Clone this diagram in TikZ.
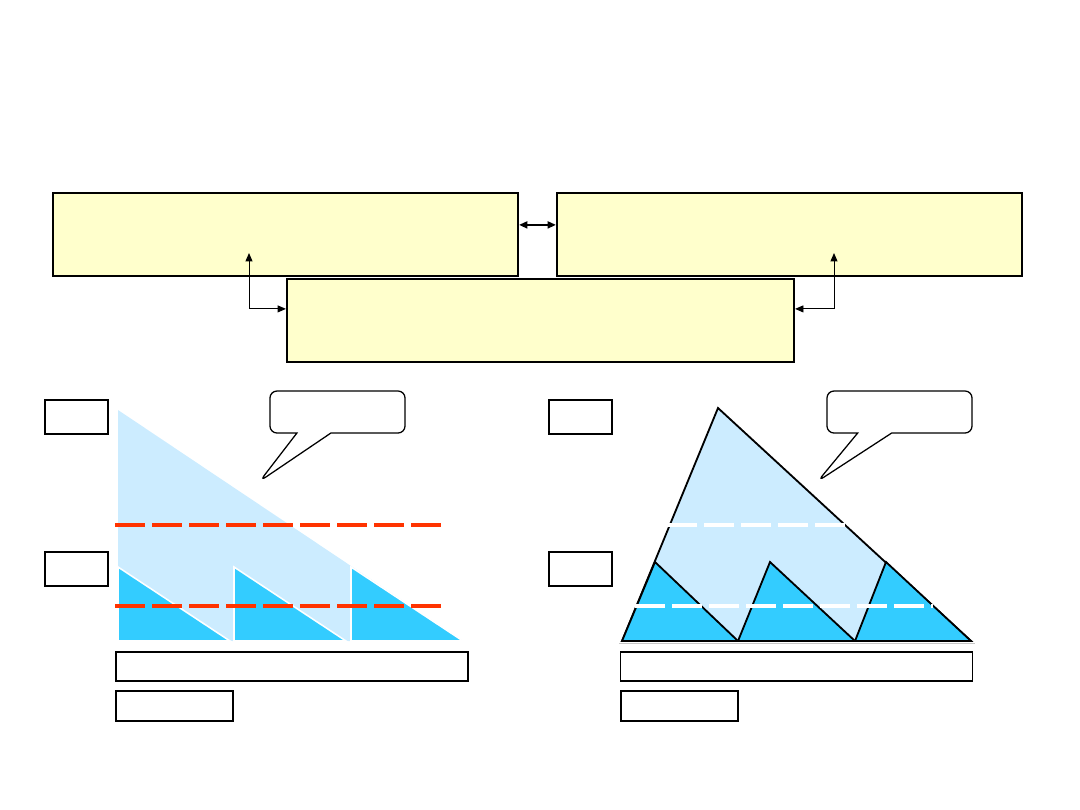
\documentclass[tikz,border=0pt]{standalone}
\usepackage{tikz}
\usetikzlibrary{positioning,arrows.meta,calc,shapes.callouts}

\definecolor{paleyellow}{HTML}{FFFFCC}
\definecolor{lightsky}{HTML}{CCECFF}
\definecolor{deepsky}{HTML}{33CCFF}
\definecolor{redorange}{HTML}{FF3300}

\begin{document}
\begin{tikzpicture}[
  x=0.025cm, y=-0.025cm,
  arr/.style={{Triangle[length=6pt,width=5pt]}-{Triangle[length=6pt,width=5pt]}, line width=0.7pt},
  bigarr/.style={{Triangle[length=6pt,width=5pt]}-{Triangle[length=6pt,width=5pt]}, line width=1.4pt},
  panel/.style={draw=black, line width=1.4pt, fill=paleyellow, minimum width=11.625cm, minimum height=2.075cm, inner sep=0pt},
  tag/.style={draw=black, line width=1.4pt, fill=white, minimum width=1.575cm, minimum height=0.85cm, inner sep=0pt},
  axisbox/.style={draw=black, line width=1pt, fill=white, minimum width=8.8cm, minimum height=0.725cm, inner sep=0pt},
  namebox/.style={draw=black, line width=1.4pt, fill=white, minimum width=2.925cm, minimum height=0.75cm, inner sep=0pt},
  bubble/.style={rectangle callout, draw=black, line width=0.9pt, fill=white, rounded corners=5pt, minimum height=1.05cm, callout pointer width=0.85cm, inner sep=0pt},
  level/.style={line width=2.4pt, dash pattern=on 0.75cm off 0.175cm},
  outline/.style={draw=black, line width=1.3pt, line join=miter}
]
\useasboundingbox (0,0) rectangle (1080,810);

% Top row of panels
\node[panel] (left) at (285.5,234.5) {};
\node[panel] (right) at (789.5,234.5) {};
\node[panel, minimum width=12.675cm] (mid) at (540.5,320.5) {};

\draw[bigarr] ([yshift=0.24cm]left.east) -- ([yshift=0.24cm]right.west);

\coordinate (leftin) at (249,253);
\coordinate (rightin) at (834,253);
\draw[arr] (leftin) |- ([yshift=0.29cm]mid.west);
\draw[arr] (rightin) |- ([yshift=0.29cm]mid.east);

% Left chart
\node[tag] (ltop) at (76.5,417) {};
\node[tag] (lbot) at (76.5,569) {};

\fill[lightsky] (118,410) -- (118,641) -- (463,641) -- cycle;
\foreach \x in {118,234,351} {
  \filldraw[fill=deepsky, draw=white, line width=1.1pt] (\x,567) -- (\x,641) -- ($(\x,641)+(112,0)$) -- cycle;
}
\draw[level, redorange] (115,525) -- (443,525);
\draw[level, redorange] (115,606) -- (443,606);

\node[bubble, minimum width=3.375cm, callout absolute pointer={(260,481)}] (lnote) at (337.5,412) {};

\node[axisbox] (laxis) at (292,666.5) {};
\node[namebox] (lname) at (174.5,706) {};

% Right chart
\node[tag] (rtop) at (580.5,417) {};
\node[tag] (rbot) at (580.5,569) {};

\draw[gray!45, line width=0.6pt] (619,643) -- (975,643);
\filldraw[fill=lightsky, outline] (622,641) -- (718,408) -- (971,641) -- cycle;
\filldraw[fill=deepsky, outline] (622,641) -- (655,562) -- (738,641) -- cycle;
\filldraw[fill=deepsky, outline] (738,641) -- (770,562) -- (855,641) -- cycle;
\filldraw[fill=deepsky, outline] (855,641) -- (886,562) -- (971,641) -- cycle;
\draw[level, white] (667,525) -- (848,525);
\draw[level, white] (635,606) -- (933,606);

\node[bubble, minimum width=3.625cm, callout absolute pointer={(818,481)}] (rnote) at (899.5,412) {};

\node[axisbox] (raxis) at (796.5,666.5) {};
\node[namebox] (rname) at (679.5,706) {};

\end{tikzpicture}
\end{document}
